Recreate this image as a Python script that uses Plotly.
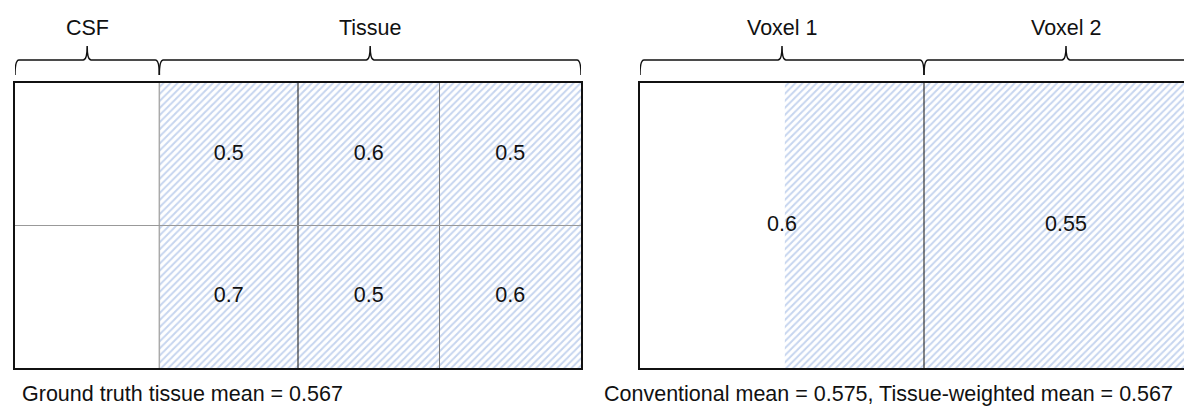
import plotly.graph_objects as go

# ---------------- data ----------------
# Left panel: ground-truth grid (CSF column + 3 tissue columns, 2 rows)
left_col_edges = [0.0, 1.02, 2.0, 3.0, 4.0]
left_row_edges = [0.0, 1.0, 2.0]
left_values_top = [0.5, 0.6, 0.5]
left_values_bottom = [0.7, 0.5, 0.6]
left_groups = ["CSF", "Tissue"]
left_group_spans = [(0.0, 1.02), (1.02, 4.0)]

# Right panel: two voxels
voxel_edges = [0.0, 1.0, 2.0]
voxel_labels = ["Voxel 1", "Voxel 2"]
voxel_values = [0.6, 0.55]
voxel1_csf_fraction = 0.51

left_caption = "Ground truth tissue mean = 0.567"
right_caption = "Conventional mean = 0.575, Tissue-weighted mean = 0.567"

# ---------------- layout geometry ----------------
W, H = 1192, 407
FONT = "Liberation Sans, Arial, sans-serif"
FS = 21.5
HATCH = dict(shape="/", fgcolor="#8eabdf", bgcolor="white", size=5, solidity=0.4)

lx0, lx1 = 7, 573          # left box px
rx0 = 632                   # right box px start
vox_px = 284                # px per voxel
ytop, ybot = 75, 360

left_range = [0, 4.0]
right_range = [0, (W - rx0) / vox_px]
left_ppu = (lx1 - lx0) / (left_range[1] - left_range[0])
right_ppu = vox_px

fig = go.Figure()

# hatch fills
fig.add_trace(go.Scatter(
    x=[left_col_edges[1], left_col_edges[-1], left_col_edges[-1], left_col_edges[1], left_col_edges[1]],
    y=[left_row_edges[0], left_row_edges[0], left_row_edges[-1], left_row_edges[-1], left_row_edges[0]],
    fill="toself", fillpattern=HATCH, fillcolor="white", mode="lines", line=dict(width=0),
    hoverinfo="skip", showlegend=False, xaxis="x", yaxis="y"))
fig.add_trace(go.Scatter(
    x=[voxel1_csf_fraction, voxel_edges[-1], voxel_edges[-1], voxel1_csf_fraction, voxel1_csf_fraction],
    y=[0, 0, 2, 2, 0],
    fill="toself", fillpattern=HATCH, fillcolor="white", mode="lines", line=dict(width=0),
    hoverinfo="skip", showlegend=False, xaxis="x2", yaxis="y2"))

# cell value labels
cx = [(left_col_edges[i] + left_col_edges[i + 1]) / 2 for i in range(1, 4)]
cy_top = (left_row_edges[1] + left_row_edges[2]) / 2
cy_bot = (left_row_edges[0] + left_row_edges[1]) / 2
fig.add_trace(go.Scatter(
    x=cx + cx, y=[cy_top] * 3 + [cy_bot] * 3,
    text=[f"{v}" for v in left_values_top + left_values_bottom],
    mode="text", textfont=dict(family=FONT, size=FS, color="#111"),
    hoverinfo="skip", showlegend=False, xaxis="x", yaxis="y"))
vx = [(voxel_edges[i] + voxel_edges[i + 1]) / 2 for i in range(2)]
fig.add_trace(go.Scatter(
    x=vx, y=[1, 1], text=[f"{v}" for v in voxel_values],
    mode="text", textfont=dict(family=FONT, size=FS, color="#111"),
    hoverinfo="skip", showlegend=False, xaxis="x2", yaxis="y2"))

shapes = []
# interior grid lines (left)
shapes.append(dict(type="line", xref="x", yref="y", x0=left_col_edges[1], x1=left_col_edges[1],
                   y0=0, y1=2, line=dict(color="#aaaaaa", width=1.5), layer="above"))
shapes.append(dict(type="line", xref="x", yref="y", x0=left_col_edges[2], x1=left_col_edges[2],
                   y0=0, y1=2, line=dict(color="#111111", width=1), layer="above"))
shapes.append(dict(type="line", xref="x", yref="y", x0=left_col_edges[3], x1=left_col_edges[3],
                   y0=0, y1=2, line=dict(color="#777777", width=1), layer="above"))
shapes.append(dict(type="line", xref="x", yref="y", x0=0, x1=4, y0=left_row_edges[1], y1=left_row_edges[1],
                   line=dict(color="#999999", width=1.2), layer="above"))
# voxel divider (right)
shapes.append(dict(type="line", xref="x2", yref="y2", x0=voxel_edges[1], x1=voxel_edges[1],
                   y0=0, y1=2, line=dict(color="#111111", width=1), layer="above"))


def py(p):
    return 1 - p / H


def brace(xref, a, b, ppu):
    r = 4 / ppu
    c = (a + b) / 2
    ye, yl, yp = py(67), py(52), py(38)
    path = (f"M {a},{ye} Q {a},{yl} {a + r},{yl} L {c - r},{yl} Q {c},{yl} {c},{yp} "
            f"Q {c},{yl} {c + r},{yl} L {b - r},{yl} Q {b},{yl} {b},{ye}")
    return dict(type="path", xref=xref, yref="paper", path=path,
                line=dict(color="#111111", width=1.5))


annotations = []
for name, (a, b) in zip(left_groups, left_group_spans):
    shapes.append(brace("x", a, b, left_ppu))
    annotations.append(dict(x=(a + b) / 2, y=py(20), xref="x", yref="paper", text=name,
                            showarrow=False, font=dict(family=FONT, size=FS, color="#111"),
                            xanchor="center", yanchor="middle"))
for i, name in enumerate(voxel_labels):
    a, b = voxel_edges[i], voxel_edges[i + 1]
    shapes.append(brace("x2", a, b, right_ppu))
    annotations.append(dict(x=(a + b) / 2, y=py(20), xref="x2", yref="paper", text=name,
                            showarrow=False, font=dict(family=FONT, size=FS, color="#111"),
                            xanchor="center", yanchor="middle"))

annotations.append(dict(x=12 / W, y=py(386), xref="paper", yref="paper", text=left_caption,
                        showarrow=False, font=dict(family=FONT, size=FS, color="#111"),
                        xanchor="left", yanchor="middle"))
annotations.append(dict(x=594 / W, y=py(386), xref="paper", yref="paper", text=right_caption,
                        showarrow=False, font=dict(family=FONT, size=FS, color="#111"),
                        xanchor="left", yanchor="middle"))

ydom = [1 - ybot / H, 1 - ytop / H]
axis_common = dict(showgrid=False, zeroline=False, showticklabels=False, ticks="",
                   linecolor="#111111", linewidth=2, fixedrange=True)

fig.update_layout(
    width=W, height=H,
    margin=dict(l=0, r=0, t=0, b=0),
    paper_bgcolor="white", plot_bgcolor="white",
    xaxis=dict(domain=[lx0 / W, lx1 / W], range=left_range, anchor="y", showline=True, mirror=True, **axis_common),
    yaxis=dict(domain=ydom, range=[0, 2], anchor="x", showline=True, mirror=True, **axis_common),
    xaxis2=dict(domain=[rx0 / W, 1], range=right_range, anchor="y2", showline=True, mirror=True, **axis_common),
    yaxis2=dict(domain=ydom, range=[0, 2], anchor="x2", showline=True, mirror=False, **axis_common),
    shapes=shapes,
    annotations=annotations,
)

fig.write_html("out.html")
